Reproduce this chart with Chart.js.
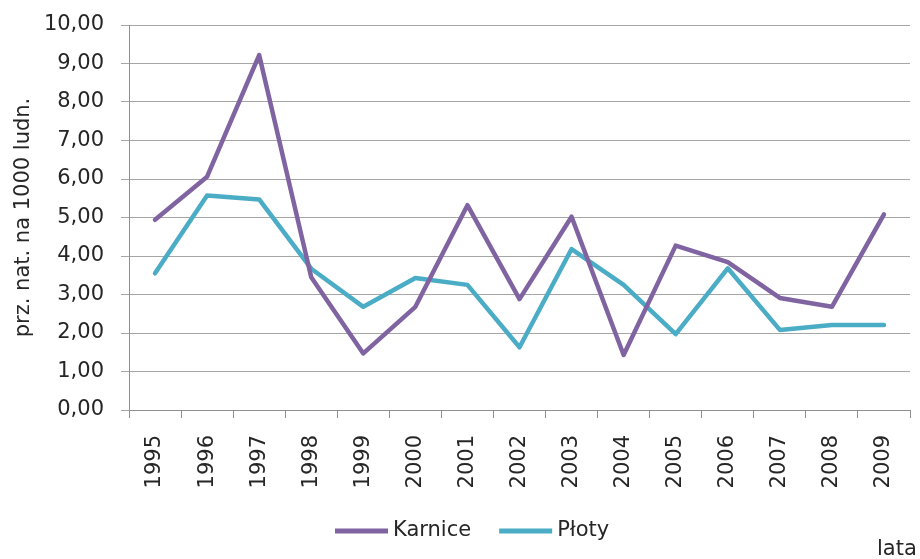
<!DOCTYPE html>
<html>
<head>
<meta charset="utf-8">
<script src="https://cdn.jsdelivr.net/npm/chart.js@4/dist/chart.umd.min.js"></script>
<style>
  html, body { margin: 0; padding: 0; background: #ffffff; }
  #wrap { width: 920px; height: 559px; }
</style>
</head>
<body>
<div id="wrap"><canvas id="c" width="920" height="559"></canvas></div>
<script>
const years = ['1995','1996','1997','1998','1999','2000','2001','2002','2003','2004','2005','2006','2007','2008','2009'];
const karnice = [4.94, 6.06, 9.22, 3.45, 1.47, 2.68, 5.32, 2.88, 5.02, 1.43, 4.27, 3.84, 2.91, 2.68, 5.08];
const ploty   = [3.55, 5.57, 5.47, 3.67, 2.68, 3.43, 3.25, 1.63, 4.18, 3.25, 1.97, 3.68, 2.08, 2.21, 2.21];
const yTitle = 'prz. nat. na 1000 ludn.';
const xTitle = 'lata';
const seriesNames = ['Karnice', 'Płoty'];
const seriesColors = ['#8064A2', '#4BACC6'];

const FONT = 'DejaVu Sans';
const TXT = '#262626';

const legendPlugin = {
  id: 'customLegend',
  afterDraw(chart) {
    const ctx = chart.ctx;
    ctx.save();
    ctx.font = '21px "' + FONT + '"';
    ctx.textBaseline = 'middle';
    ctx.textAlign = 'left';
    let x = 335;
    const y = 531;
    chart.data.datasets.forEach((ds) => {
      ctx.strokeStyle = ds.borderColor;
      ctx.lineWidth = 5;
      ctx.lineCap = 'butt';
      ctx.beginPath();
      ctx.moveTo(x, y);
      ctx.lineTo(x + 53, y);
      ctx.stroke();
      x += 58;
      ctx.fillStyle = TXT;
      ctx.fillText(ds.label, x, y);
      x += ctx.measureText(ds.label).width + 28;
    });
    ctx.textBaseline = 'alphabetic';
    ctx.fillText(xTitle, 877, 555);
    ctx.restore();
  }
};

new Chart(document.getElementById('c'), {
  type: 'line',
  data: {
    labels: years,
    datasets: [
      { label: seriesNames[0], data: karnice, borderColor: seriesColors[0], backgroundColor: seriesColors[0],
        borderWidth: 4.5, pointRadius: 0, tension: 0, borderJoinStyle: 'round', borderCapStyle: 'round', fill: false },
      { label: seriesNames[1], data: ploty, borderColor: seriesColors[1], backgroundColor: seriesColors[1],
        borderWidth: 4.5, pointRadius: 0, tension: 0, borderJoinStyle: 'round', borderCapStyle: 'round', fill: false }
    ]
  },
  options: {
    responsive: false,
    animation: false,
    devicePixelRatio: 1,
    layout: { padding: { top: 25, right: 10, left: 0, bottom: 0 } },
    plugins: {
      legend: { display: false },
      tooltip: { enabled: false }
    },
    scales: {
      x: {
        type: 'category',
        offset: true,
        grid: { offset: true, drawOnChartArea: false, drawTicks: true, tickLength: 8, color: '#909090', lineWidth: 1 },
        border: { display: true, color: '#909090', width: 1 },
        ticks: { minRotation: 90, maxRotation: 90, autoSkip: false, padding: 17, color: TXT,
                 font: { family: FONT, size: 21 } },
        afterFit(scale) { scale.height = 149; scale.paddingLeft = 0; scale.paddingRight = 0; }
      },
      y: {
        min: 0, max: 10,
        grid: { color: '#a6a6a6', lineWidth: 1, drawTicks: true, tickLength: 8 },
        border: { display: true, color: '#909090', width: 1 },
        ticks: { stepSize: 1, padding: 17, color: TXT, font: { family: FONT, size: 21 },
                 callback: (v) => Number(v).toFixed(2).replace('.', ',') },
        title: { display: true, text: yTitle, color: TXT, font: { family: FONT, size: 21 }, padding: { top: 11, bottom: 0 } },
        afterFit(scale) { scale.width = 129; scale.paddingTop = 0; scale.paddingBottom = 0; }
      }
    }
  },
  plugins: [legendPlugin]
});
</script>
</body>
</html>
